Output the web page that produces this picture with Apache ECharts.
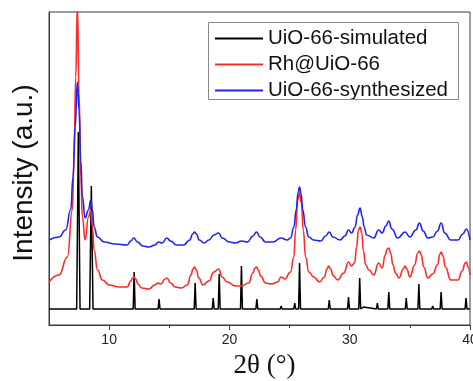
<!DOCTYPE html>
<html>
<head>
<meta charset="utf-8">
<title>XRD patterns of UiO-66</title>
<script src="https://cdn.jsdelivr.net/npm/echarts@6/dist/echarts.min.js"></script>
<style>
  html, body { margin: 0; padding: 0; background: #fff; }
  #chart { width: 473px; height: 381px; }
</style>
</head>
<body>
<div id="chart"></div>
<script>
// Diffraction angle axis (2θ, degrees)
const thetaMin = 5;
const thetaMax = 40;
const majorTicks = [10, 20, 30, 40];
const minorTicks = [15, 25, 35];

// Series names and axis titles
const seriesNames = ['UiO-66-simulated', 'Rh@UiO-66', 'UiO-66-synthesized'];
const xTitle = '2θ (°)';
const yTitle = 'Intensity (a.u.)';

// Simulated pattern: [2θ, intensity] (sharp reflections on a flat baseline)
const simulatedPattern = [
  [5.0, 16],
  [7.30, 16], [7.44, 193], [7.58, 16],
  [8.38, 16], [8.52, 139], [8.66, 16],
  [12.00, 16], [12.08, 53], [12.16, 16],
  [14.07, 16], [14.15, 26], [14.23, 16],
  [14.72, 16], [14.80, 18], [14.88, 16],
  [17.07, 16], [17.15, 42], [17.23, 16],
  [18.57, 16], [18.65, 27], [18.73, 16],
  [19.07, 16], [19.15, 51], [19.23, 16],
  [20.92, 16], [21.00, 59], [21.08, 16],
  [22.20, 16], [22.28, 26], [22.36, 16],
  [24.22, 16], [24.30, 19], [24.38, 16],
  [25.35, 16], [25.43, 22], [25.51, 16],
  [25.75, 16], [25.83, 62], [25.91, 16],
  [27.17, 16], [27.25, 18], [27.33, 16],
  [28.22, 16], [28.30, 25], [28.38, 16],
  [29.82, 16], [29.90, 28], [29.98, 16],
  [30.75, 16], [30.83, 47], [30.91, 16],
  [31.07, 16], [31.15, 18], [31.23, 16],
  [32.22, 16], [32.30, 22], [32.38, 16],
  [33.17, 16], [33.25, 33], [33.33, 16],
  [34.62, 16], [34.70, 27], [34.78, 16],
  [35.67, 16], [35.75, 41], [35.83, 16],
  [36.82, 16], [36.90, 19], [36.98, 16],
  [37.52, 16], [37.60, 33], [37.68, 16],
  [39.59, 16], [39.67, 27], [39.75, 16],
  [40.0, 16]
];

// Rh@UiO-66 measured pattern: [2θ, intensity]
const rhPattern = [
  [5.0, 43], [5.83, 50], [6.53, 68], [6.94, 115], [7.08, 165], [7.22, 248],
  [7.36, 320], [7.5, 232], [7.64, 148], [7.78, 108], [8.0, 85], [8.28, 108],
  [8.47, 115], [8.61, 98], [8.75, 75], [9.03, 55], [9.44, 45], [10.0, 40],
  [10.83, 38], [11.5, 38], [11.8, 44], [11.95, 47], [12.05, 48], [12.2, 46],
  [12.4, 41], [12.7, 37], [13.3, 36], [13.8, 40], [14.05, 42], [14.3, 41],
  [14.65, 46], [14.8, 47], [15.1, 42], [15.5, 38], [16.0, 37], [16.5, 40],
  [16.8, 50], [16.97, 56], [17.1, 58], [17.25, 55], [17.45, 47], [17.8, 40],
  [18.3, 44], [18.7, 53], [19.1, 56], [19.4, 48], [19.8, 43], [20.5, 39],
  [21.0, 39], [21.6, 42], [21.95, 52], [22.12, 57], [22.25, 58], [22.4, 55],
  [22.6, 49], [23.0, 42], [23.5, 41], [24.0, 43], [24.3, 48], [24.6, 46],
  [25.08, 53], [25.36, 68], [25.5, 95], [25.68, 125], [25.83, 132], [25.98, 122],
  [26.14, 95], [26.33, 68], [26.6, 53], [27.0, 48], [27.5, 43], [27.9, 48],
  [28.1, 56], [28.25, 59], [28.4, 56], [28.65, 49], [29.0, 45], [29.5, 52],
  [29.9, 63], [30.14, 59], [30.4, 62], [30.58, 78], [30.72, 95], [30.86, 98],
  [31.0, 92], [31.14, 74], [31.33, 60], [31.6, 55], [32.0, 50], [32.4, 62],
  [32.7, 57], [32.95, 70], [33.12, 76], [33.25, 77], [33.4, 72], [33.6, 60],
  [33.8, 52], [34.1, 47], [34.45, 56], [34.6, 59], [34.75, 56], [35.0, 48],
  [35.4, 60], [35.65, 72], [35.8, 74], [35.95, 70], [36.15, 58], [36.5, 47],
  [36.9, 51], [37.3, 60], [37.5, 71], [37.6, 73], [37.75, 69], [37.95, 58],
  [38.4, 45], [39.0, 45], [39.35, 54], [39.6, 62], [39.7, 63], [39.85, 58],
  [40.0, 50]
];

// As-synthesized UiO-66 pattern: [2θ, intensity]
const synthesizedPattern = [
  [5.0, 85], [5.83, 88], [6.39, 95], [6.8, 115], [7.0, 148], [7.17, 198],
  [7.36, 243], [7.5, 215], [7.64, 165], [7.78, 128], [8.0, 107], [8.28, 115],
  [8.47, 125], [8.61, 115], [8.75, 98], [9.03, 88], [9.58, 83], [10.5, 81],
  [11.5, 80], [11.8, 84], [12.05, 87], [12.35, 83], [12.8, 79], [13.3, 78],
  [13.8, 80], [14.1, 83], [14.4, 82], [14.8, 87], [15.1, 84], [15.6, 80],
  [16.2, 80], [16.7, 85], [16.95, 91], [17.1, 93], [17.25, 91], [17.5, 85],
  [17.9, 82], [18.3, 85], [18.7, 90], [19.1, 92], [19.4, 87], [20.0, 83],
  [20.5, 82], [21.0, 84], [21.5, 83], [21.95, 89], [22.25, 93], [22.55, 88],
  [23.0, 83], [23.6, 83], [24.3, 87], [24.8, 85], [25.08, 87], [25.36, 98],
  [25.55, 115], [25.7, 132], [25.83, 138], [25.96, 131], [26.1, 115], [26.33, 98],
  [26.6, 88], [27.0, 85], [27.6, 84], [28.0, 89], [28.3, 93], [28.6, 88],
  [29.2, 85], [29.6, 89], [29.9, 95], [30.15, 92], [30.45, 98], [30.65, 110],
  [30.86, 117], [31.05, 108], [31.2, 98], [31.4, 90], [32.0, 87], [32.4, 95],
  [32.7, 92], [33.0, 99], [33.25, 104], [33.5, 96], [34.0, 87], [34.6, 93],
  [35.0, 88], [35.5, 95], [35.8, 102], [36.1, 94], [36.5, 87], [36.9, 88],
  [37.3, 94], [37.6, 102], [37.9, 92], [38.4, 85], [39.0, 85], [39.4, 91],
  [39.7, 96], [40.0, 85]
];

const seriesColors = ['#000000', '#ff2a2a', '#2323f0'];
const axisColor = '#3a3a3a';
const sans = 'Liberation Sans, Arial, sans-serif';
const serif = 'Liberation Serif, Times New Roman, serif';

const chart = echarts.init(document.getElementById('chart'), null, { renderer: 'canvas' });

const lineSeries = (name, data, color, smooth, width) => ({
  name: name,
  type: 'line',
  data: data,
  symbol: 'none',
  smooth: smooth,
  smoothMonotone: 'x',
  clip: true,
  lineStyle: { color: color, width: width },
  itemStyle: { color: color },
  emphasis: { disabled: true },
  animation: false
});

chart.setOption({
  backgroundColor: '#ffffff',
  animation: false,
  grid: {
    left: 49, top: 12, right: 3, bottom: 56,
    outerBoundsMode: 'none',
    containLabel: false,
    show: true, borderColor: axisColor, borderWidth: 1, backgroundColor: 'transparent'
  },
  legend: {
    orient: 'vertical',
    left: 208, top: 22,
    padding: [6, 4, 2, 7],
    itemGap: 5,
    itemWidth: 48,
    itemHeight: 2,
    icon: 'rect',
    borderWidth: 0,
    selectedMode: false,
    textStyle: { fontFamily: sans, fontSize: 20.5, lineHeight: 20, color: '#111' },
    data: seriesNames
  },
  graphic: [
    // Frame around the legend
    {
      type: 'rect',
      silent: true,
      z: 100,
      shape: { x: 208.5, y: 22.5, width: 250, height: 77 },
      style: { fill: 'none', stroke: '#888888', lineWidth: 1 }
    },
    // Rotated y-axis title
    {
      type: 'text',
      x: 24, y: 173,
      rotation: Math.PI / 2,
      silent: true,
      style: {
        text: yTitle,
        font: '28px ' + sans,
        fill: '#111',
        align: 'center',
        verticalAlign: 'middle'
      }
    }
  ],
  xAxis: [
    {
      type: 'value',
      min: thetaMin, max: thetaMax,
      position: 'bottom',
      name: xTitle,
      nameLocation: 'middle',
      nameGap: 27,
      nameTextStyle: { fontFamily: serif, fontSize: 27, color: '#111', padding: [0, 0, 0, 10] },
      axisLine: { show: true, onZero: false, lineStyle: { color: axisColor, width: 1 } },
      axisTick: { show: true, inside: false, length: 5, customValues: majorTicks, lineStyle: { color: axisColor } },
      axisLabel: { show: true, customValues: majorTicks, fontFamily: sans, fontSize: 14, color: '#222', margin: 8 },
      splitLine: { show: false }
    },
    {
      type: 'value',
      min: thetaMin, max: thetaMax,
      position: 'bottom',
      axisLine: { show: false },
      axisTick: { show: true, inside: false, length: 3, customValues: minorTicks, lineStyle: { color: axisColor } },
      axisLabel: { show: false },
      splitLine: { show: false }
    }
  ],
  yAxis: {
    type: 'value',
    min: 0, max: 313,
    axisLine: { show: true, lineStyle: { color: axisColor, width: 1 } },
    axisTick: { show: false },
    axisLabel: { show: false },
    splitLine: { show: false }
  },
  series: [
    lineSeries(seriesNames[0], simulatedPattern, seriesColors[0], false, 1.5),
    lineSeries(seriesNames[1], rhPattern, seriesColors[1], 0.5, 1.6),
    lineSeries(seriesNames[2], synthesizedPattern, seriesColors[2], 0.5, 1.6)
  ]
});
</script>
</body>
</html>
